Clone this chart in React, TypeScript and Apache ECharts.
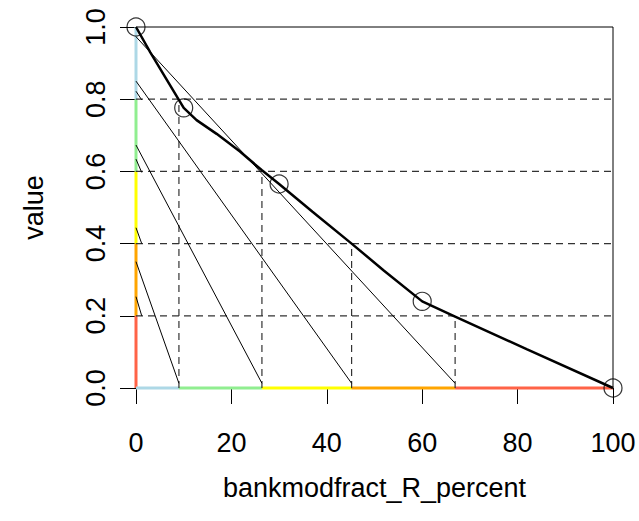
import React, { useEffect, useRef } from "react";
import * as echarts from "echarts";

const xTicks = [0, 20, 40, 60, 80, 100];
const yTicks = [0, 0.2, 0.4, 0.6, 0.8, 1.0];

// thick fitted curve
const curveX = [0, 3, 6.4, 10, 12.7, 16.9, 21.8, 26.4, 30, 37, 45.2, 52, 60, 66.9, 82, 100];
const curveY = [1, 0.93, 0.855, 0.776, 0.742, 0.704, 0.655, 0.603, 0.565, 0.488, 0.4, 0.325, 0.24, 0.198, 0.107, 0];

// observed points (hollow circles)
const circleX = [0, 10, 30, 60, 100];
const circleY = [1, 0.776, 0.565, 0.24, 0];

// reference levels and where the curve crosses them
const levels = [0.8, 0.6, 0.4, 0.2];
const levelFootX = [9.0, 26.4, 45.2, 66.9];

// long thin lines from the y axis to the feet
const longStartY = [0.35, 0.673, 0.85, 0.973];
const longEndY = 0.013;

// short thin marks just above each level at the y axis
const shortStartY = [0.822, 0.634, 0.444, 0.253];
const shortEndY = [0.798, 0.597, 0.4, 0.2];
const shortEndX = 1.2;

// coloured bands along the axes
const yBandEdges = [0, 0.2, 0.4, 0.6, 0.8, 1.0];
const yBandColors = ["#FF6347", "#FFA500", "#FFFF00", "#90EE90", "#ADD8E6"];
const xBandEdges = [0, 9.0, 26.4, 45.2, 66.9, 100];
const xBandColors = ["#ADD8E6", "#90EE90", "#FFFF00", "#FFA500", "#FF6347"];

const FONT = "'Liberation Sans', Arial, Helvetica, sans-serif";

export default function App() {
  const ref = useRef<HTMLDivElement>(null);
  useEffect(() => {
    if (!ref.current) return;
    const chart = echarts.init(ref.current, null, { renderer: "svg" });
    const series: any[] = [];
    const dash = [7, 5];
    levels.forEach((l, i) => {
      series.push({
        type: "line", data: [[0, l], [100, l]], symbol: "none", clip: false, z: 3,
        lineStyle: { color: "#333", width: 1.2, type: dash },
      });
      series.push({
        type: "line", data: [[levelFootX[i], 0], [levelFootX[i], l]], symbol: "none", clip: false, z: 3,
        lineStyle: { color: "#333", width: 1.2, type: dash },
      });
      series.push({
        type: "line", data: [[0, longStartY[i]], [levelFootX[i], longEndY]], symbol: "none", clip: false, z: 4,
        lineStyle: { color: "#000", width: 1 },
      });
      series.push({
        type: "line", data: [[0, shortStartY[i]], [shortEndX, shortEndY[i]]], symbol: "none", clip: false, z: 4,
        lineStyle: { color: "#000", width: 1 },
      });
    });
    yBandColors.forEach((c, i) => {
      series.push({
        type: "line", data: [[0, yBandEdges[i]], [0, yBandEdges[i + 1]]], symbol: "none", clip: false, z: 2,
        lineStyle: { color: c, width: 3 },
      });
    });
    xBandColors.forEach((c, i) => {
      series.push({
        type: "line", data: [[xBandEdges[i], 0], [xBandEdges[i + 1], 0]], symbol: "none", clip: false, z: 2,
        lineStyle: { color: c, width: 3 },
      });
    });
    series.push({
      type: "line", data: curveX.map((x, i) => [x, curveY[i]]), symbol: "none", clip: false, z: 5,
      lineStyle: { color: "#000", width: 2.5 },
    });
    series.push({
      type: "scatter", data: circleX.map((x, i) => [x, circleY[i]]), symbol: "circle", symbolSize: 18, clip: false, z: 6,
      itemStyle: { color: "rgba(0,0,0,0)", borderColor: "#000", borderWidth: 1.2 },
    });

    chart.setOption({
      animation: false,
      grid: { left: 136, right: 26, top: 27, bottom: 133, show: true, borderColor: "#000", borderWidth: 1, backgroundColor: "transparent" },
      xAxis: {
        type: "value", min: 0, max: 100, interval: 20,
        name: "bankmodfract_R_percent", nameLocation: "middle", nameGap: 86,
        nameTextStyle: { color: "#000", fontSize: 27, fontFamily: FONT },
        axisLine: { show: false },
        axisTick: { show: true, length: 16, lineStyle: { color: "#000", width: 1 } },
        axisLabel: { color: "#000", fontSize: 27, fontFamily: FONT, margin: 41 },
        splitLine: { show: false },
      },
      yAxis: {
        type: "value", min: 0, max: 1, interval: 0.2,
        name: "value", nameLocation: "middle", nameGap: 89, nameRotate: 90,
        nameTextStyle: { color: "#000", fontSize: 27, fontFamily: FONT },
        axisLine: { show: false },
        axisTick: { show: true, length: 16, lineStyle: { color: "#000", width: 1 } },
        axisLabel: { color: "#000", fontSize: 27, fontFamily: FONT, margin: 27, rotate: 90, formatter: (v: number) => v.toFixed(1) },
        splitLine: { show: false },
      },
      series,
    });
    return () => chart.dispose();
  }, []);
  return <div ref={ref} style={{ position: "fixed", left: 0, top: 0, width: 639, height: 521, background: "#fff" }} />;
}
